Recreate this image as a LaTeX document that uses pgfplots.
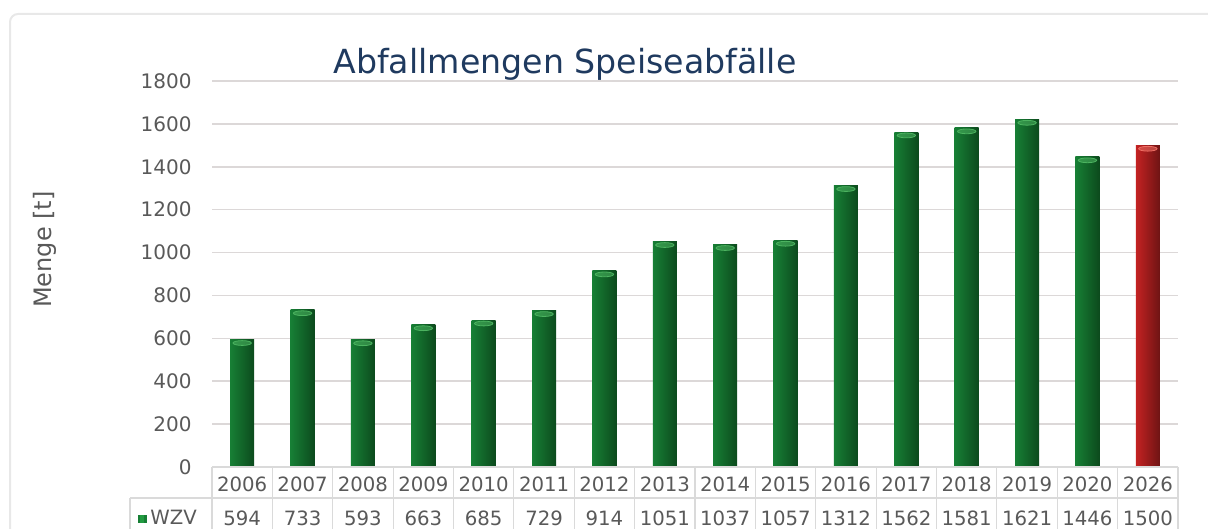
\documentclass[border=0pt]{standalone}
\usepackage{pgfplots}
\pgfplotsset{compat=1.18}
\usepackage{fontspec}
\setmainfont{DejaVu Sans}
\definecolor{gridgray}{HTML}{DCD8D8}
\definecolor{tabgray}{HTML}{DADADA}
\definecolor{txtgray}{HTML}{595959}
\definecolor{titleblue}{HTML}{1F3A5F}
\definecolor{gL}{HTML}{177F35}
\definecolor{gM}{HTML}{229B41}
\definecolor{gR}{HTML}{0C4A1D}
\definecolor{gCap}{HTML}{4CB360}
\definecolor{rL}{HTML}{C42222}
\definecolor{rM}{HTML}{E0372F}
\definecolor{rR}{HTML}{6E1414}
\definecolor{rCap}{HTML}{EE6E64}
\definecolor{framegray}{HTML}{E8E8E8}
\pgfplotsset{
  gbar/.style={ybar, bar width=12pt, bar shift=0pt, draw=none, left color=gL, middle color=gM, right color=gR},
  rbar/.style={ybar, bar width=12pt, bar shift=0pt, draw=none, left color=rL, middle color=rM, right color=rR},
}
\begin{document}
\begin{tikzpicture}
\path[use as bounding box] (0,0) rectangle (604pt,264.5pt);
% frame
\draw[framegray, line width=1pt, rounded corners=4pt] (5pt,0) -- (5pt,257.5pt) -- (604pt,257.5pt);
% title
\node[anchor=base, text=titleblue, font=\fontsize{16.6}{20}\selectfont, inner sep=0pt] at (282.5pt,227.8pt) {Abfallmengen Speiseabfälle};
% y label
\node[anchor=base, rotate=90, text=txtgray, font=\fontsize{12}{14}\selectfont, inner sep=0pt] at (25.5pt,139.75pt) {Menge [t]};
\begin{axis}[
  at={(106pt,31pt)}, anchor=south west,
  width=483pt, height=193pt, scale only axis,
  xmin=-0.5, xmax=15.5, ymin=0, ymax=1800,
  ytick={0,200,...,1800},
  xtick={0,...,15},
  xticklabels={2006,2007,2008,2009,2010,2011,2012,2013,2014,2015,2016,2017,2018,2019,2020,2026},
  extra x ticks={0,...,15},
  extra x tick labels={594,733,593,663,685,729,914,1051,1037,1057,1312,1562,1581,1621,1446,1500},
  extra x tick style={grid=none, tick label style={yshift=-16.85pt}},
  axis line style={draw=none},
  major tick length=0pt,
  ymajorgrids, grid style={color=gridgray, line width=0.8pt},
  /pgf/number format/assume math mode=true,
  /pgf/number format/1000 sep={},
  yticklabel style={font=\fontsize{10}{12}\selectfont, text=txtgray, inner sep=0pt, anchor=east, xshift=-10pt},
  xticklabel style={font=\fontsize{9.85}{12}\selectfont, text=txtgray, inner sep=0pt, anchor=base, yshift=-12.15pt},
  clip=false,
]
\addplot[gbar] coordinates {(0,594)};
\addplot[gbar] coordinates {(1,733)};
\addplot[gbar] coordinates {(2,593)};
\addplot[gbar] coordinates {(3,663)};
\addplot[gbar] coordinates {(4,685)};
\addplot[gbar] coordinates {(5,729)};
\addplot[gbar] coordinates {(6,914)};
\addplot[gbar] coordinates {(7,1051)};
\addplot[gbar] coordinates {(8,1037)};
\addplot[gbar] coordinates {(9,1057)};
\addplot[gbar] coordinates {(10,1312)};
\addplot[gbar] coordinates {(11,1562)};
\addplot[gbar] coordinates {(12,1581)};
\addplot[gbar] coordinates {(13,1621)};
\addplot[gbar] coordinates {(14,1446)};
\addplot[rbar] coordinates {(15,1500)};
\addplot[only marks, color=gCap, mark=*, mark size=4.6pt, mark options={yshift=-1.7pt, yscale=0.26, draw=none, fill=gCap, fill opacity=0.55}]
  coordinates {(0,594) (1,733) (2,593) (3,663) (4,685) (5,729) (6,914) (7,1051) (8,1037) (9,1057) (10,1312) (11,1562) (12,1581) (13,1621) (14,1446)};
\addplot[only marks, color=rCap, mark=*, mark size=4.6pt, mark options={yshift=-1.7pt, yscale=0.26, draw=none, fill=rCap, fill opacity=0.55}]
  coordinates {(15,1500)};
% table grid
\draw[tabgray, line width=0.6pt] (axis cs:-0.5,0) -- (axis cs:15.5,0);
\draw[tabgray, line width=0.6pt] ([xshift=-41pt, yshift=-15.5pt]axis cs:-0.5,0) -- ([yshift=-15.5pt]axis cs:15.5,0);
\pgfplotsinvokeforeach{-0.5,0.5,1.5,2.5,3.5,4.5,5.5,6.5,7.5,8.5,9.5,10.5,11.5,12.5,13.5,14.5,15.5}{
  \draw[tabgray, line width=0.6pt] (axis cs:#1,0) -- ([yshift=-31pt]axis cs:#1,0);
}
\draw[tabgray, line width=0.6pt] ([xshift=-41pt, yshift=-15.5pt]axis cs:-0.5,0) -- ([xshift=-41pt, yshift=-31pt]axis cs:-0.5,0);
\end{axis}
% legend key in table
\fill[gL] (69pt,3pt) rectangle (73.5pt,7pt);
\fill[gM] (70pt,3pt) rectangle (72pt,7pt);
\node[anchor=base west, inner sep=0pt, text=txtgray, font=\fontsize{9.85}{12}\selectfont] at (75pt,2pt) {WZV};
\end{tikzpicture}
\end{document}
